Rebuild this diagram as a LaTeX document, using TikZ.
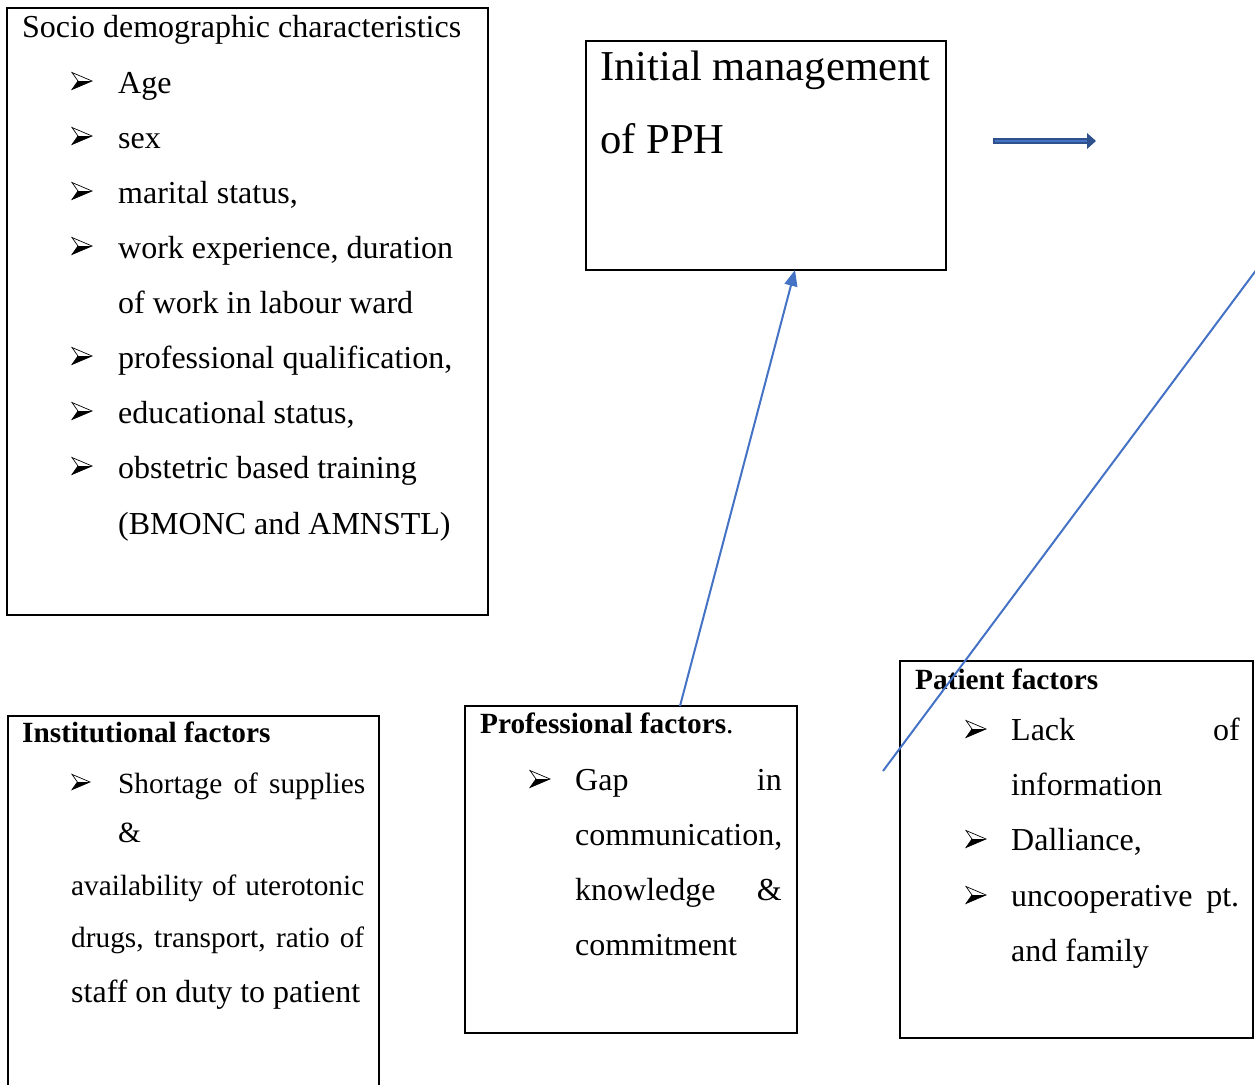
\documentclass[tikz,border=0pt]{standalone}
\usepackage{fontspec}
\setmainfont{Liberation Serif}
\usetikzlibrary{arrows.meta,calc}
\definecolor{lineblue}{HTML}{4472C4}
\definecolor{darkblue}{HTML}{2F528F}
\tikzset{
  bul/.pic={\draw[line width=0.7pt] (0,-8.5)--(20,0)--(0,8.5)--(6,0)--cycle;
            \fill (6,0)--(20,0)--(0,8.5)--cycle;},
}
\begin{document}
\begin{tikzpicture}[x=1pt,y=-1pt,
  box/.style={draw=black,line width=1.6pt,anchor=north west,inner sep=0,outer sep=0},
  bigtxt/.style={inner sep=0,anchor=base west,font=\fontsize{32}{38}\selectfont},
  bigtxtr/.style={inner sep=0,anchor=base east,font=\fontsize{32}{38}\selectfont},
  hugetxt/.style={inner sep=0,anchor=base west,font=\fontsize{42.6}{50}\selectfont},
  smtxt/.style={inner sep=0,anchor=base west,font=\fontsize{29.3}{35}\selectfont},
  headtxt/.style={inner sep=0,anchor=base west,font=\fontsize{29.3}{35}\selectfont\bfseries},
  conn/.style={lineblue,line width=2pt}]
\useasboundingbox (0,0) rectangle (1255,1084);

% boxes
\node[box,minimum width=481pt,minimum height=607pt] (socio) at (7,8) {};
\node[box,minimum width=360pt,minimum height=229pt] (init) at (586,41) {};
\node[box,minimum width=371pt,minimum height=420pt] (inst) at (8,716) {};
\node[box,minimum width=332pt,minimum height=327pt] (prof) at (465,706) {};
\node[box,minimum width=353pt,minimum height=377pt] (pat) at (900,661) {};

% socio demographic
\node[bigtxt] (s0) at (22,37) {Socio demographic characteristics};
\foreach \yy in {93,148,203,258,368,423,478} \pic at (72,\yy-12) {bul};
\node[bigtxt] (s1) at (118,93) {Age};
\node[bigtxt] (s2) at (118,148) {sex};
\node[bigtxt] (s3) at (118,203) {marital status,};
\node[bigtxt] (s4) at (118,258) {work experience, duration};
\node[bigtxt] (s5) at (118,313) {of work in labour ward};
\node[bigtxt] (s6) at (118,368) {professional qualification,};
\node[bigtxt] (s7) at (118,423) {educational status,};
\node[bigtxt] (s8) at (118,478) {obstetric based training};
\node[bigtxt] (s9) at (118,534) {(BMONC and AMNSTL)};

% initial management
\node[hugetxt] (i1) at (600,80) {Initial management};
\node[hugetxt] (i2) at (600,153) {of PPH};

% institutional
\node[headtxt] (n0) at (22,742) {Institutional factors};
\pic[scale=0.9] at (72,782) {bul};
\node[smtxt] (n1) at (118,793) {\makebox[247pt][s]{Shortage of supplies}};
\node[smtxt] (n2) at (118,842) {\&};
\node[smtxt] (n3) at (71,895) {\makebox[293pt][s]{availability of uterotonic}};
\node[smtxt] (n4) at (71,947) {\makebox[293pt][s]{drugs, transport, ratio of}};
\node[bigtxt] (n5) at (71,1002) {staff on duty to patient};

% professional
\node[headtxt] (p0) at (480,733) {Professional factors\mdseries.};
\pic at (530,779) {bul};
\node[bigtxt] (p1) at (575,790) {Gap};
\node[bigtxtr] (p1b) at (782,790) {in};
\node[bigtxt] (p2) at (575,845) {communication,};
\node[bigtxt] (p3) at (575,900) {knowledge};
\node[bigtxtr] (p3b) at (782,900) {\&};
\node[bigtxt] (p4) at (575,955) {commitment};

% patient
\node[headtxt] (t0) at (915,689) {Patient factors};
\pic at (966,729) {bul};
\pic at (966,839) {bul};
\pic at (966,895) {bul};
\node[bigtxt] (t1) at (1011,740) {Lack};
\node[bigtxtr] (t1b) at (1240,740) {of};
\node[bigtxt] (t2) at (1011,795) {information};
\node[bigtxt] (t3) at (1011,850) {Dalliance,};
\node[bigtxt] (t4) at (1011,906) {\makebox[228pt][s]{uncooperative pt.}};
\node[bigtxt] (t5) at (1011,961) {and family};

% connectors
\draw[conn,-{Triangle[length=16pt,width=13pt]}] ([xshift=215pt]prof.north west) -- ([xshift=209pt]init.south west);
\coordinate (d1) at (883,771);
\coordinate (d2) at (1257,269);
\draw[conn] (d1) -- (d2);

% block arrow
\coordinate (ra1) at (993,141);
\coordinate (ra2) at (1087,141);
\coordinate (ra3) at (1096,141);
\draw[darkblue,line width=6.5pt] (ra1) -- (ra2);
\draw[lineblue,line width=2.5pt] ([xshift=1.5pt]ra1) -- (ra2);
\fill[darkblue] ([yshift=-8pt]ra2) -- (ra3) -- ([yshift=8pt]ra2) -- cycle;
\end{tikzpicture}
\end{document}
